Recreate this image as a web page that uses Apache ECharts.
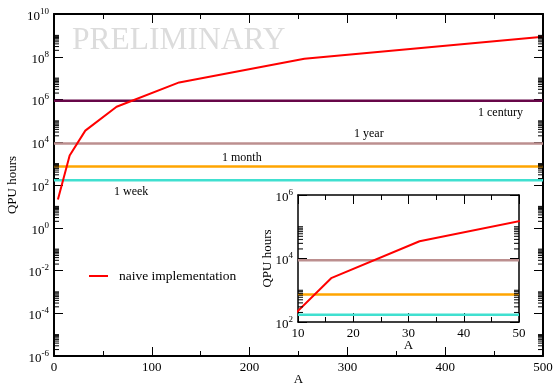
<!DOCTYPE html>
<html>
<head>
<meta charset="utf-8">
<script src="https://cdn.jsdelivr.net/npm/echarts@6/dist/echarts.min.js"></script>
<style>
html,body{margin:0;padding:0;background:#fff;}
#chart{width:554px;height:385px;}
</style>
</head>
<body>
<div id="chart"></div>
<script>
// ---- data ----
const atomsA = [4, 16, 32, 64, 128, 256, 500];
const qpuHours = [21, 2400, 35000, 460000, 6300000, 81000000, 870000000];
const scaleNames = ['1 week', '1 month', '1 year', '1 century'];
const scaleHours = [168, 730.5, 8766, 876600];
const scaleColors = ['#40e0d0', '#ffa500', '#bc8f8f', '#670748'];
const mainXRange = [0, 500];
const mainYRange = [1e-6, 1e10];
const insetXRange = [10, 50];
const insetYRange = [1e2, 1e6];
const insetScales = [0, 1, 2]; // week, month, year shown in inset

const FONT = 'Liberation Serif';

// minor tick values: 2..10 x 10^k for even k
function minorTicks(range) {
  const out = [];
  const lo = Math.round(Math.log10(range[0])), hi = Math.round(Math.log10(range[1]));
  for (let k = lo; k < hi; k += 2) {
    for (let n = 2; n <= 10; n++) out.push(n * Math.pow(10, k));
  }
  return out;
}
const mainMinor = minorTicks(mainYRange);
const insetMinor = minorTicks(insetYRange);

function tickRenderer(xr, len) {
  return function (params, api) {
    const v = api.value(1);
    const pL = api.coord([xr[0], v]);
    const pR = api.coord([xr[1], v]);
    return {
      type: 'group',
      children: [
        {type: 'line', shape: {x1: pL[0], y1: pL[1], x2: pL[0] + len, y2: pL[1]}, style: {stroke: '#000', lineWidth: 1}},
        {type: 'line', shape: {x1: pR[0] - len, y1: pR[1], x2: pR[0], y2: pR[1]}, style: {stroke: '#000', lineWidth: 1}}
      ]
    };
  };
}

function logLabel(v) {
  const e = Math.round(Math.log10(v));
  return '{b|10}{s|' + e + '}';
}
const richY = {
  b: {fontSize: 13, fontFamily: FONT, color: '#000', lineHeight: 18, verticalAlign: 'bottom'},
  s: {fontSize: 9, fontFamily: FONT, color: '#000', lineHeight: 18, verticalAlign: 'top', padding: [2, 0, 0, 0]}
};

function xAxisDef(grid, range, interval, showLabel, pos, name, nameGap, width) {
  return {
    type: 'value', gridIndex: grid, min: range[0], max: range[1], interval: interval, position: pos,
    axisLine: {show: true, onZero: false, lineStyle: {color: '#000', width: width}},
    axisTick: {show: true, inside: true, length: 9, lineStyle: {color: '#000', width: 1}},
    minorTick: {show: true, splitNumber: 2, length: 5, lineStyle: {color: '#000', width: 1}},
    splitLine: {show: false}, minorSplitLine: {show: false},
    axisLabel: {show: showLabel, fontFamily: FONT, fontSize: 13, color: '#000', margin: 5},
    name: name, nameLocation: 'middle', nameGap: nameGap, nameMoveOverlap: false,
    nameTextStyle: {fontFamily: FONT, fontSize: 13, color: '#000'}
  };
}
function yAxisDef(grid, range, showLabel, pos, name, nameGap, width) {
  return {
    type: 'log', logBase: 100, gridIndex: grid, min: range[0], max: range[1], position: pos,
    axisLine: {show: true, onZero: false, lineStyle: {color: '#000', width: width}},
    axisTick: {show: true, inside: true, length: 9, lineStyle: {color: '#000', width: 1}},
    splitLine: {show: false},
    axisLabel: {show: showLabel, formatter: logLabel, rich: richY, margin: 5},
    name: name, nameLocation: 'middle', nameGap: nameGap, nameRotate: 90, nameMoveOverlap: false,
    nameTextStyle: {fontFamily: FONT, fontSize: 13, color: '#000'}
  };
}

const series = [];
// main horizontal reference lines
scaleHours.forEach((h, i) => {
  series.push({
    name: scaleNames[i], type: 'line', xAxisIndex: 0, yAxisIndex: 0,
    data: [[mainXRange[0], h], [mainXRange[1], h]],
    symbol: 'none', lineStyle: {color: scaleColors[i], width: 2.5}, z: 3
  });
});
series.push({
  name: 'naive implementation', type: 'line', xAxisIndex: 0, yAxisIndex: 0,
  data: atomsA.map((a, i) => [a, qpuHours[i]]),
  symbol: 'none', lineStyle: {color: '#ff0000', width: 2}, itemStyle: {color: '#ff0000'}, z: 4
});
series.push({
  type: 'custom', xAxisIndex: 0, yAxisIndex: 0,
  data: mainMinor.map(v => [mainXRange[0], v]),
  renderItem: tickRenderer(mainXRange, 5), silent: true, clip: false, z: 5
});
// inset
insetScales.forEach(i => {
  series.push({
    name: 'inset ' + scaleNames[i], type: 'line', xAxisIndex: 2, yAxisIndex: 2,
    data: [[insetXRange[0], scaleHours[i]], [insetXRange[1], scaleHours[i]]],
    symbol: 'none', lineStyle: {color: scaleColors[i], width: 2.5}, z: 3
  });
});
series.push({
  name: 'inset naive', type: 'line', xAxisIndex: 2, yAxisIndex: 2,
  data: atomsA.map((a, i) => [a, qpuHours[i]]),
  symbol: 'none', lineStyle: {color: '#ff0000', width: 2}, clip: true, z: 4
});
series.push({
  type: 'custom', xAxisIndex: 2, yAxisIndex: 2,
  data: insetMinor.map(v => [insetXRange[0], v]),
  renderItem: tickRenderer(insetXRange, 5), silent: true, clip: false, z: 5
});

const option = {
  animation: false,
  backgroundColor: '#fff',
  grid: [
    {left: 54, right: 11, top: 14, bottom: 29, outerBoundsMode: 'none', containLabel: false},
    {left: 298, width: 221, top: 195, height: 127, outerBoundsMode: 'none', containLabel: false}
  ],
  xAxis: [
    xAxisDef(0, mainXRange, 100, true, 'bottom', 'A', 17.5, 2),
    xAxisDef(0, mainXRange, 100, false, 'top', '', 0, 2),
    xAxisDef(1, insetXRange, 10, true, 'bottom', 'A', 17, 1.5),
    xAxisDef(1, insetXRange, 10, false, 'top', '', 0, 1.5)
  ],
  yAxis: [
    yAxisDef(0, mainYRange, true, 'left', 'QPU hours', 35, 2),
    yAxisDef(0, mainYRange, false, 'right', '', 0, 2),
    yAxisDef(1, insetYRange, true, 'left', 'QPU hours', 23.5, 1.5),
    yAxisDef(1, insetYRange, false, 'right', '', 0, 1.5)
  ],
  legend: {
    data: ['naive implementation'], left: 89, top: 269, padding: 0, itemWidth: 19, itemHeight: 2, icon: 'rect',
    itemStyle: {color: '#ff0000'},
    textStyle: {fontFamily: FONT, fontSize: 13.5, color: '#000', padding: [0, 0, 0, 6]}
  },
  graphic: [
    {type: 'text', left: 72, top: 25, silent: true, z: 0,
     style: {text: 'PRELIMINARY', font: '31.5px "Liberation Serif"', fill: '#dcdcdc'}},
    {type: 'text', left: 478, top: 107, style: {text: scaleNames[3], font: '12px "Liberation Serif"', fill: '#000'}},
    {type: 'text', left: 354, top: 128, style: {text: scaleNames[2], font: '12px "Liberation Serif"', fill: '#000'}},
    {type: 'text', left: 222, top: 152, style: {text: scaleNames[1], font: '12px "Liberation Serif"', fill: '#000'}},
    {type: 'text', left: 114, top: 185.5, style: {text: scaleNames[0], font: '12px "Liberation Serif"', fill: '#000'}}
  ],
  series: series
};

const chart = echarts.init(document.getElementById('chart'), null, {renderer: 'canvas'});
chart.setOption(option);
</script>
</body>
</html>
